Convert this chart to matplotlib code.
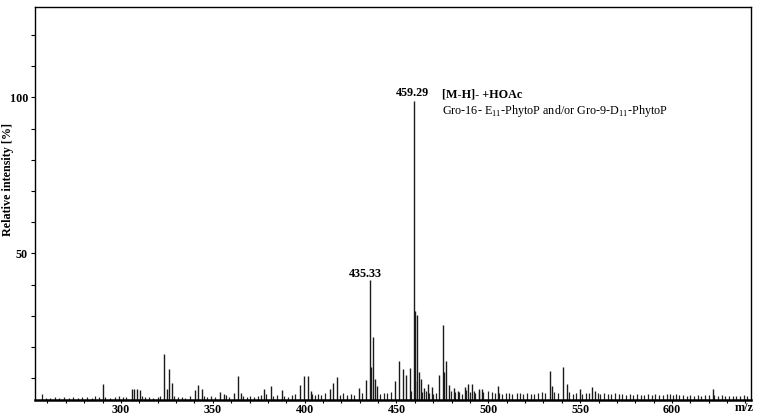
import matplotlib
matplotlib.use("Agg")
import matplotlib.pyplot as plt
from matplotlib.ticker import MultipleLocator, FixedLocator

plt.rcParams['font.family'] = ['Liberation Serif', 'DejaVu Serif']
plt.rcParams['mathtext.fontset'] = 'custom'
plt.rcParams['mathtext.rm'] = 'Liberation Serif'

# main peaks (m/z, relative intensity %)
peak_mz = [290.3, 305.8, 307.2, 308.5, 310.3, 323.7, 324.8, 326.1, 327.9,
           340.1, 342.1, 343.9, 353.7, 355.9, 361.6, 363.8, 365.1, 377.8,
           381.8, 387.6, 397.7, 399.6, 401.6, 403.2, 413.7, 415.5, 417.7,
           429.5, 433.3, 435.33, 436.0, 437.3, 438.4, 439.5, 449.3, 451.3,
           453.3, 455.3, 457.3, 459.29, 459.9, 460.3, 460.9, 462.3, 463.3,
           465.1, 467.3, 469.3, 473.3, 475.3, 476.0, 477.2, 478.5, 481.2,
           483.6, 487.2, 489.0, 491.2, 494.8, 496.8, 505.0, 533.8, 534.9,
           540.9, 542.7, 549.8, 556.7, 558.3, 622.2]
peak_int = [8.0, 6.6, 6.6, 6.4, 6.2, 17.9, 6.4, 12.8, 8.3,
            6.2, 7.8, 6.6, 5.7, 4.9, 5.3, 10.7, 5.3, 6.4,
            7.5, 6.2, 7.7, 10.7, 10.7, 5.9, 6.4, 8.3, 10.3,
            6.9, 9.4, 41.6, 13.6, 23.2, 9.6, 7.5, 9.1, 15.4,
            12.8, 10.9, 13.3, 99.0, 9.0, 31.4, 30.4, 11.9, 9.6,
            6.9, 8.0, 7.3, 10.9, 27.2, 12.0, 15.4, 7.7, 6.9,
            5.9, 7.3, 8.0, 8.0, 6.5, 6.5, 7.5, 12.3, 7.5,
            13.5, 8.2, 6.4, 7.3, 6.0, 6.6]

# small background peaks
noise_mz = [256.8, 259.0, 261.5, 264.0, 266.5, 269.0, 271.5, 274.0, 276.5,
            279.0, 281.5, 284.0, 286.0, 288.0, 291.5, 294.0, 296.5, 299.0,
            301.0, 303.0, 311.5, 313.0, 315.0, 317.5, 320.0, 321.5, 329.0,
            331.0, 333.0, 335.0, 337.5, 345.0, 347.0, 349.0, 351.0, 357.0,
            359.0, 366.5, 368.5, 370.5, 372.5, 374.5, 376.0, 379.0, 383.0,
            385.0, 389.0, 391.0, 393.0, 395.0, 404.0, 405.5, 407.0, 409.0,
            411.0, 419.0, 421.0, 423.0, 425.0, 427.0, 431.0, 441.0, 443.0,
            445.0, 447.0, 457.8, 463.8, 465.8, 467.8, 470.0, 471.5, 479.5,
            482.0, 484.0, 485.5, 487.8, 489.8, 492.0, 493.0, 495.0, 497.3,
            500.0, 502.0, 503.5, 506.0, 507.5, 509.4, 511.0, 513.0, 515.7,
            517.0, 519.0, 521.0, 523.0, 525.0, 527.0, 529.0, 531.0, 536.0,
            538.0, 544.0, 546.0, 547.5, 551.0, 553.0, 555.0, 559.5, 561.0,
            563.0, 565.0, 567.0, 569.0, 571.0, 573.0, 575.0, 577.0, 579.0,
            581.0, 583.0, 585.0, 587.0, 589.0, 591.0, 593.0, 595.0, 597.0,
            599.0, 600.5, 602.0, 604.0, 606.0, 608.0, 610.0, 612.0, 614.0,
            616.0, 618.0, 620.0, 623.0, 625.0, 627.0, 629.0, 631.0, 633.0,
            635.0, 637.0, 639.0, 641.0]
noise_int = [4.8, 3.8, 3.6, 3.9, 3.7, 4.0, 3.8, 4.1, 3.7,
             3.9, 4.0, 3.8, 4.2, 3.9, 4.0, 3.8, 4.1, 4.4,
             3.9, 4.1, 4.2, 3.9, 4.0, 3.8, 4.1, 4.3, 4.3,
             3.9, 4.1, 3.8, 4.3, 4.4, 4.0, 4.2, 3.9, 4.5,
             4.1, 4.3, 4.0, 4.2, 3.9, 4.4, 4.6, 4.8, 4.2,
             4.5, 4.3, 4.1, 4.6, 4.8, 5.0, 4.6, 4.9, 4.7,
             5.1, 4.6, 5.2, 4.7, 4.9, 4.5, 5.2, 5.0, 5.4,
             5.3, 5.6, 6.0, 5.5, 5.8, 5.2, 5.0, 5.4, 5.8,
             5.5, 5.6, 5.0, 6.2, 5.6, 5.8, 5.4, 6.0, 5.6,
             5.8, 5.6, 5.3, 5.2, 5.0, 5.4, 5.3, 5.0, 5.4,
             5.1, 4.8, 5.2, 4.9, 5.0, 5.3, 5.6, 5.2, 5.6,
             5.2, 5.5, 5.0, 5.4, 5.0, 5.4, 5.2, 5.3, 4.9,
             5.1, 4.8, 5.0, 5.2, 4.9, 5.0, 4.7, 4.9, 4.6,
             4.8, 4.5, 4.7, 4.9, 4.6, 4.8, 4.5, 4.7, 4.9,
             5.0, 4.7, 4.8, 4.5, 4.7, 4.4, 4.6, 4.3, 4.6,
             4.4, 4.5, 4.7, 4.5, 4.3, 4.5, 4.2, 4.4, 4.2,
             4.4, 4.3, 4.5, 4.2]

xticks = [300, 350, 400, 450, 500, 550, 600]
yticks = [50, 100]

fig = plt.figure(figsize=(7.67, 4.17), dpi=100)
ax = fig.add_axes([35/767, 17/417, 716/767, 393/417])

ax.vlines(noise_mz, 0, noise_int, color='#222222', lw=0.9)
ax.vlines(peak_mz, 0, peak_int, color='#1a1a1a', lw=1.0)

ax.set_xlim(253.2, 643.0)
ax.set_ylim(3.0, 129.0)

bold = dict(fontweight='bold', fontsize=8.7)
ax.xaxis.set_major_locator(FixedLocator(xticks))
ax.xaxis.set_minor_locator(MultipleLocator(10))
ax.yaxis.set_major_locator(FixedLocator(yticks))
ax.yaxis.set_minor_locator(MultipleLocator(10))
ax.set_xticklabels([str(t) for t in xticks], **bold)
ax.set_yticklabels([str(t) for t in yticks], **bold)
ax.tick_params(which='both', direction='out', width=0.8)
ax.tick_params(axis='x', which='major', length=2.5, pad=0.3)
ax.tick_params(axis='x', which='minor', length=2.2)
ax.tick_params(axis='y', which='major', length=3, pad=2)
ax.tick_params(axis='y', which='minor', length=3)
for s in ax.spines.values():
    s.set_linewidth(1.0)
ax.spines['bottom'].set_linewidth(1.8)

ax.text(0.99, -0.02, 'm/z', transform=ax.transAxes, ha='center', va='center', **bold)
fig.text(8/767, 1 - 180/417, 'Relative intensity [%]', rotation=90,
         ha='center', va='center', **bold)

# annotations
ax.text(458.5, 101.4, '459.29', ha='center', va='center', **bold)
ax.text(433.3, 43.5, '435.33', ha='center', va='center', **bold)
ax.text(474.6, 100.8, '[M-H]- +HOAc', ha='left', va='center', **bold)
ax.text(474.6, 95.7,
        r'Gro-16- E$_{\mathregular{11}}$-PhytoP and/or Gro-9-D$_{\mathregular{11}}$-PhytoP',
        ha='left', va='center', fontsize=8.7)

fig.savefig('out.png', dpi=100)
